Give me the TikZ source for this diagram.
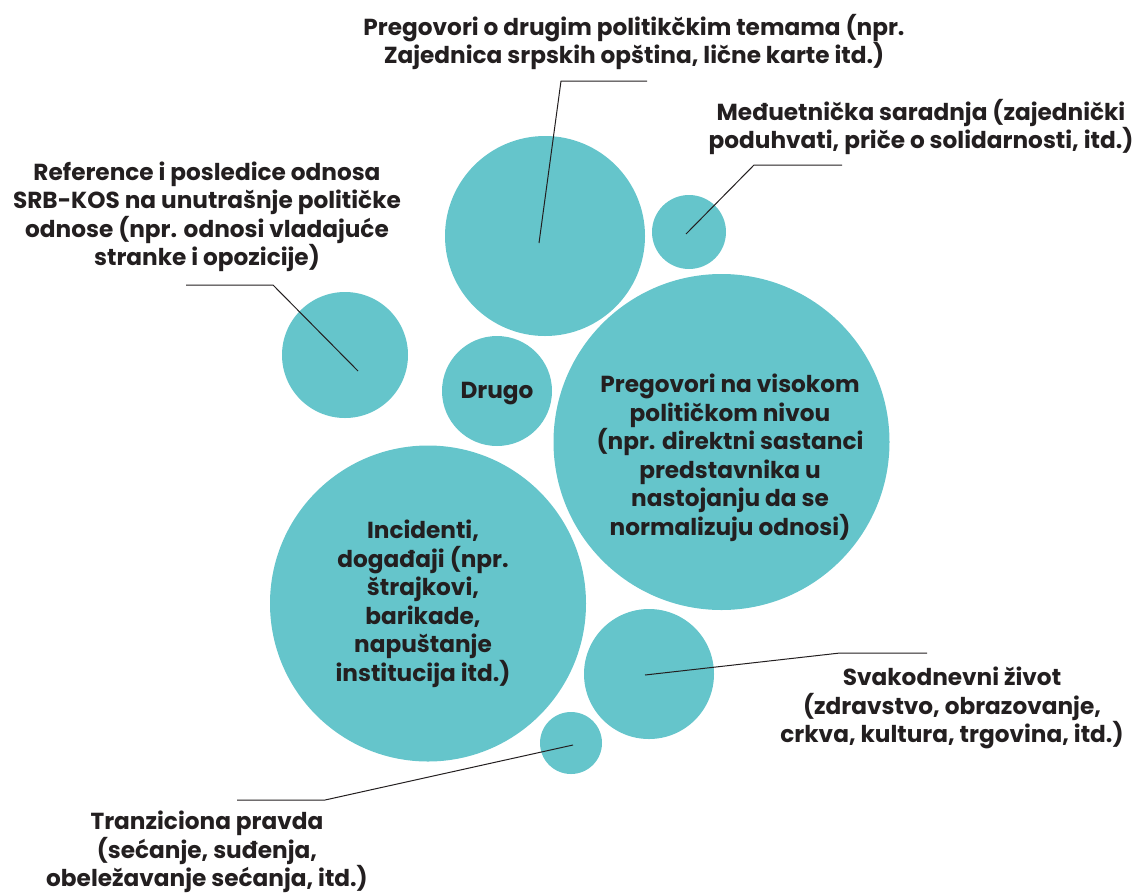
\documentclass[tikz,border=0pt]{standalone}
\usepackage{fontspec}
\setmainfont{Poppins}
\usepackage{tikz}
\definecolor{bubblecol}{HTML}{65C5CB}
\definecolor{ink}{HTML}{231F20}

\begin{document}
\begin{tikzpicture}[x=1pt, y=-1pt,
		bubble/.style={circle, fill=bubblecol, inner sep=0pt, minimum size=#1},
		caption/.style={align=center, text=ink, inner sep=0pt,
	font=\bfseries\fontsize{23.2}{28.5}\selectfont},
		leader/.style={draw=ink, line width=1pt}]
			\useasboundingbox (0,0) rectangle (1135,895);
			% bubbles
			\node[bubble=200pt] (teme) at (545,236) {};
			\node[bubble=74pt] (saradnja) at (689,232) {};
			\node[bubble=126pt] (unutra) at (345,355) {};
			\node[bubble=110pt] (drugo) at (497,391) {};
			\node[bubble=336pt] (visoko) at (721.5,442) {};
			\node[bubble=316pt] (incidenti) at (428,603.5) {};
			\node[bubble=130pt] (zivot) at (649,674) {};
			\node[bubble=62pt] (pravda) at (571,743) {};
			% labels
			\node[caption] (teme-t) at (634,42) {Pregovori o drugim politikčkim temama (npr.\\ Zajednica srpskih opština, lične karte itd.)};
			\node[caption] (saradnja-t) at (921,127) {Međuetnička saradnja (zajednički\\ poduhvati, priče o solidarnosti, itd.)};
			\node[caption] (unutra-t) at (207,217) {Reference i posledice odnosa\\ SRB-KOS na unutrašnje političke\\ odnose (npr. odnosi vladajuće\\ stranke i opozicije)};
			\node[caption] (drugo-t) at (497,394) {Drugo};
			\node[caption] (visoko-t) at (730,458) {Pregovori na visokom\\ političkom nivou\\ (npr. direktni sastanci\\ predstavnika u\\ nastojanju da se\\ normalizuju odnosi)};
			\node[caption] (incidenti-t) at (423,604) {Incidenti,\\ događaji (npr.\\ štrajkovi,\\ barikade,\\ napuštanje\\ institucija itd.)};
			\node[caption] (zivot-t) at (952,708) {Svakodnevni život\\ (zdravstvo, obrazovanje,\\ crkva, kultura, trgovina, itd.)};
			\node[caption] (pravda-t) at (207,852) {Tranziciona pravda\\ (sećanje, suđenja,\\ obeležavanje sećanja, itd.)};
			% leaders
			\coordinate (teme-k) at (561,81);
			\coordinate (saradnja-k) at (754,165);
			\coordinate (unutra-k) at (273,285);
			\coordinate (zivot-k) at (840,653);
			\coordinate (pravda-k) at (325,800);
			\draw[leader] ([shift={(-6,7)}]teme.center) -- (teme-k) -- ++(86,0);
			\draw[leader] ([shift={(-3,2)}]saradnja.center) -- (saradnja-k) -- ++(88,0);
			\draw[leader] ([shift={(13,16)}]unutra.center) -- (unutra-k) -- ++(-87,0);
			\draw[leader] ([shift={(-4,1)}]zivot.center) -- (zivot-k) -- ++(87,0);
			\draw[leader] ([shift={(2,2)}]pravda.center) -- (pravda-k) -- ++(-88,0);
		\end{tikzpicture}
\end{document}
